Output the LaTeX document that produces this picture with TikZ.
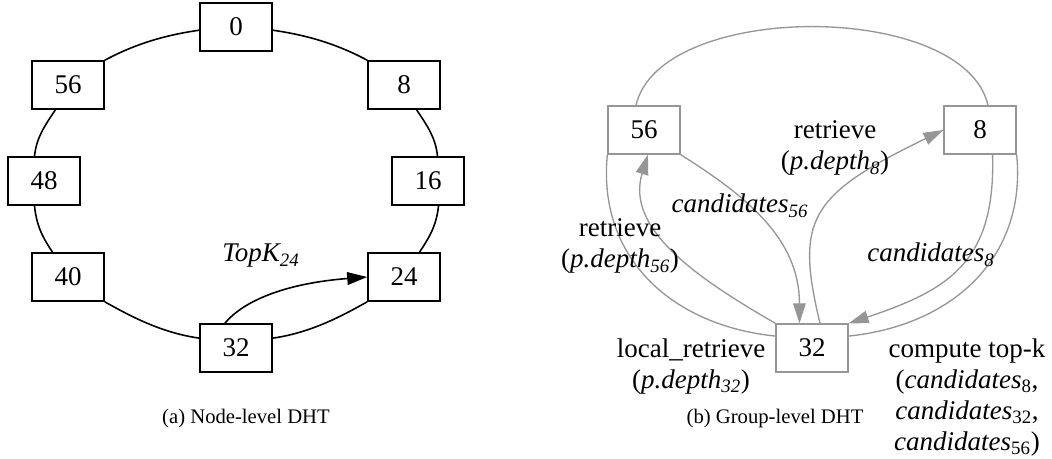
\documentclass[tikz,border=0pt]{standalone}
\usepackage{fontspec}
\setmainfont{Liberation Serif}
\usetikzlibrary{arrows.meta}
\definecolor{ringgray}{RGB}{150,150,150}
\begin{document}
\begin{tikzpicture}[x=0.75pt,y=-0.75pt,
  peer/.style={draw, minimum width=54pt, minimum height=36pt, inner sep=0pt,
    font=\fontsize{20.25}{23.25}\selectfont},
  peerA/.style={peer, line width=1.2pt},
  peerB/.style={peer, draw=ringgray, line width=1pt},
  ringA/.style={line width=1.2pt, black},
  ringB/.style={line width=1pt, ringgray},
  tip/.style={-{Triangle[length=15pt,width=9.5pt]}},
  lbl/.style={font=\fontsize{20.25}{23.25}\selectfont, inner sep=0pt, align=center},
  captxt/.style={font=\fontsize{15.5}{18}\selectfont, inner sep=0pt}]
\useasboundingbox (0,0) rectangle (1052,459);

% ---------- (a) node-level ring ----------
\node[peerA] (a0)  at (236,27)  {0};
\node[peerA] (a8)  at (404,85)  {8};
\node[peerA] (a16) at (428,181) {16};
\node[peerA] (a24) at (404,277) {24};
\node[peerA] (a32) at (236,348) {32};
\node[peerA] (a40) at (68,277)  {40};
\node[peerA] (a48) at (44,181)  {48};
\node[peerA] (a56) at (68,85)   {56};

\draw[ringA] (a56.north east) .. controls +(30,-16) and +(-35,5) .. (a0.185);
\draw[ringA] (a0.-5) .. controls +(35,5) and +(-30,-16) .. (a8.north west);
\draw[ringA] (a8.-63) .. controls +(12,18) and +(-2,-18) .. (a16.69);
\draw[ringA] (a16.-67) .. controls +(-2,18) and +(12,-18) .. (a24.58);
\draw[ringA] (a24.south west) .. controls +(-30,17) and +(35,-5) .. (a32.15);
\draw[ringA] (a32.165) .. controls +(-35,-5) and +(30,17) .. (a40.south east);
\draw[ringA] (a40.122) .. controls +(-12,-18) and +(2,18) .. (a48.-111);
\draw[ringA] (a48.111) .. controls +(2,-18) and +(-12,18) .. (a56.-117);

\draw[ringA, tip] (a32.114) .. controls +(20,-24) and +(-78,6) .. (a24.west);
\node[lbl, anchor=base west] (topk) at (222,262) {\textit{TopK\textsubscript{24}}};

\node[captxt, anchor=base] (capa) at (246,423) {(a) Node-level DHT};

% ---------- (b) group-level ring ----------
\node[peerB] (b56) at (644,130) {56};
\node[peerB] (b8)  at (980,130) {8};
\node[peerB] (b32) at (812,348) {32};

\draw[ringB] (b56.108) .. controls +(24,-105) and +(-24,-105) .. (b8.72);
\draw[ringB] (b56.south west) .. controls +(-10,101) and +(-106,-11) .. (b32.162);
\draw[ringB] (b8.south east) .. controls +(10,101) and +(106,-11) .. (b32.18);

\draw[ringB, tip] (b32.north west) .. controls +(-76,-44) and +(-23,75) .. (b56.-81);
\draw[ringB, tip] (b56.south east) .. controls +(65,41) and +(0,-85) .. (b32.117);
\draw[ringB, tip] (b32.72) .. controls +(-25,-104) and +(-134,65) .. (b8.west);
\draw[ringB, tip] (b8.-63) .. controls +(3,106) and +(102,-34) .. (b32.north east);

% multi-line labels: the base anchor sits on the last line
\node[lbl, anchor=base] (r8)  at (835,170) {retrieve\\(\textit{p.depth\textsubscript{8}})};
\node[lbl, anchor=base] (c56) at (740,213) {\textit{candidates\textsubscript{56}}};
\node[lbl, anchor=base] (r56) at (620,268) {retrieve\\(\textit{p.depth\textsubscript{56}})};
\node[lbl, anchor=base] (c8)  at (931,262) {\textit{candidates\textsubscript{8}}};
\node[lbl, anchor=base] (lr)  at (691,388) {local\_retrieve\\(\textit{p.depth\textsubscript{32}})};
\node[lbl, anchor=base] (ctk) at (967,450) {compute top-k\\(\textit{candidates}\textsubscript{8},\\\textit{candidates}\textsubscript{32},\\\textit{candidates}\textsubscript{56})};

\node[captxt, anchor=base] (capb) at (775,423) {(b) Group-level DHT};
\end{tikzpicture}
\end{document}
